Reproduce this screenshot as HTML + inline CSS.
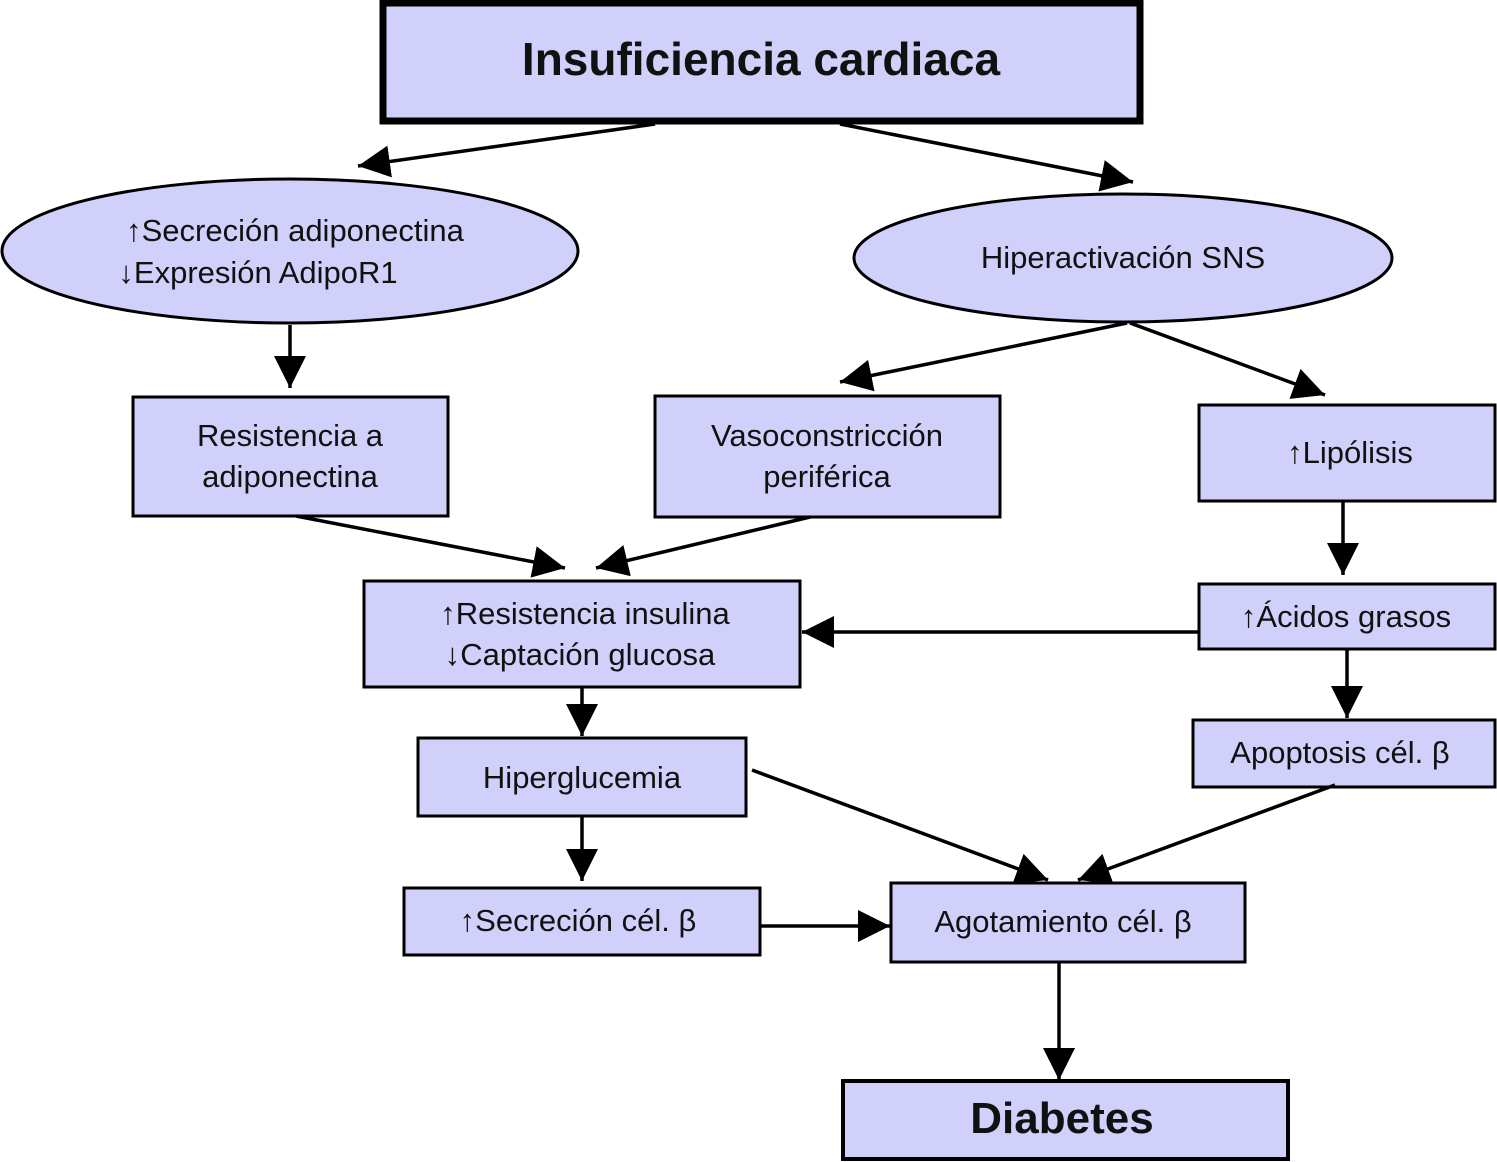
<!DOCTYPE html>
<html><head><meta charset="utf-8"><style>
html,body{margin:0;padding:0;background:#fff}
svg{display:block}
text{font-family:"Liberation Sans",sans-serif;fill:#111;text-anchor:middle}
.b{fill:#d0d0fa;stroke:#000;stroke-width:3}
.t{font-size:31px}
</style></head><body>
<svg width="1497" height="1162" viewBox="0 0 1497 1162" xmlns="http://www.w3.org/2000/svg">
<defs><marker id="a" markerUnits="userSpaceOnUse" markerWidth="34" markerHeight="34" refX="32" refY="16" orient="auto"><path d="M0,0 L32,16 L0,32 Z" fill="#000"/></marker></defs>
<rect x="383" y="3" width="757" height="118" fill="#d0d0fa" stroke="#000" stroke-width="7"/>
<text x="761" y="75" style="font-size:46px;font-weight:bold">Insuficiencia cardiaca</text>
<ellipse class="b" cx="290" cy="251" rx="288" ry="72"/>
<text class="t" x="295" y="241">↑Secreción adiponectina</text>
<text class="t" x="258" y="283">↓Expresión AdipoR1</text>
<ellipse class="b" cx="1123" cy="258" rx="269" ry="64"/>
<text class="t" x="1123" y="268">Hiperactivación SNS</text>
<rect class="b" x="133" y="397" width="315" height="119"/>
<text class="t" x="290" y="446">Resistencia a</text><text class="t" x="290" y="487">adiponectina</text>
<rect class="b" x="655" y="396" width="345" height="121"/>
<text class="t" x="827" y="446">Vasoconstricción</text><text class="t" x="827" y="487">periférica</text>
<rect class="b" x="1199" y="405" width="296" height="96"/>
<text class="t" x="1350" y="463">↑Lipólisis</text>
<rect class="b" x="364" y="581" width="436" height="106"/>
<text class="t" x="585" y="624">↑Resistencia insulina</text>
<text class="t" x="580" y="665">↓Captación glucosa</text>
<rect class="b" x="1199" y="584" width="296" height="65"/>
<text class="t" x="1346" y="627">↑Ácidos grasos</text>
<rect class="b" x="1193" y="720" width="302" height="67"/>
<text class="t" x="1340" y="763">Apoptosis cél. β</text>
<rect class="b" x="418" y="738" width="328" height="78"/>
<text class="t" x="582" y="788">Hiperglucemia</text>
<rect class="b" x="404" y="888" width="356" height="67"/>
<text class="t" x="578" y="931">↑Secreción cél. β</text>
<rect class="b" x="891" y="883" width="354" height="79"/>
<text class="t" x="1063" y="932">Agotamiento cél. β</text>
<rect x="843" y="1081" width="445" height="78" fill="#d0d0fa" stroke="#000" stroke-width="4"/>
<text x="1062" y="1133" style="font-size:44px;font-weight:bold">Diabetes</text>
<g stroke="#000" stroke-width="3.5" fill="none" marker-end="url(#a)">
<line x1="655" y1="124" x2="358" y2="166"/>
<line x1="840" y1="124" x2="1133" y2="182"/>
<line x1="290" y1="325" x2="290" y2="388"/>
<line x1="1127" y1="323" x2="840" y2="382"/>
<line x1="1130" y1="323" x2="1325" y2="395"/>
<line x1="296" y1="516" x2="565" y2="568"/>
<line x1="810" y1="517" x2="596" y2="568"/>
<line x1="1343" y1="501" x2="1343" y2="575"/>
<line x1="1199" y1="632" x2="802" y2="632"/>
<line x1="1347" y1="649" x2="1347" y2="718"/>
<line x1="582" y1="687" x2="582" y2="736"/>
<line x1="582" y1="816" x2="582" y2="881"/>
<line x1="752" y1="770" x2="1048" y2="880"/>
<line x1="1335" y1="785" x2="1078" y2="880"/>
<line x1="760" y1="926" x2="890" y2="926"/>
<line x1="1059" y1="962" x2="1059" y2="1080"/>
</g>
</svg>
</body></html>
